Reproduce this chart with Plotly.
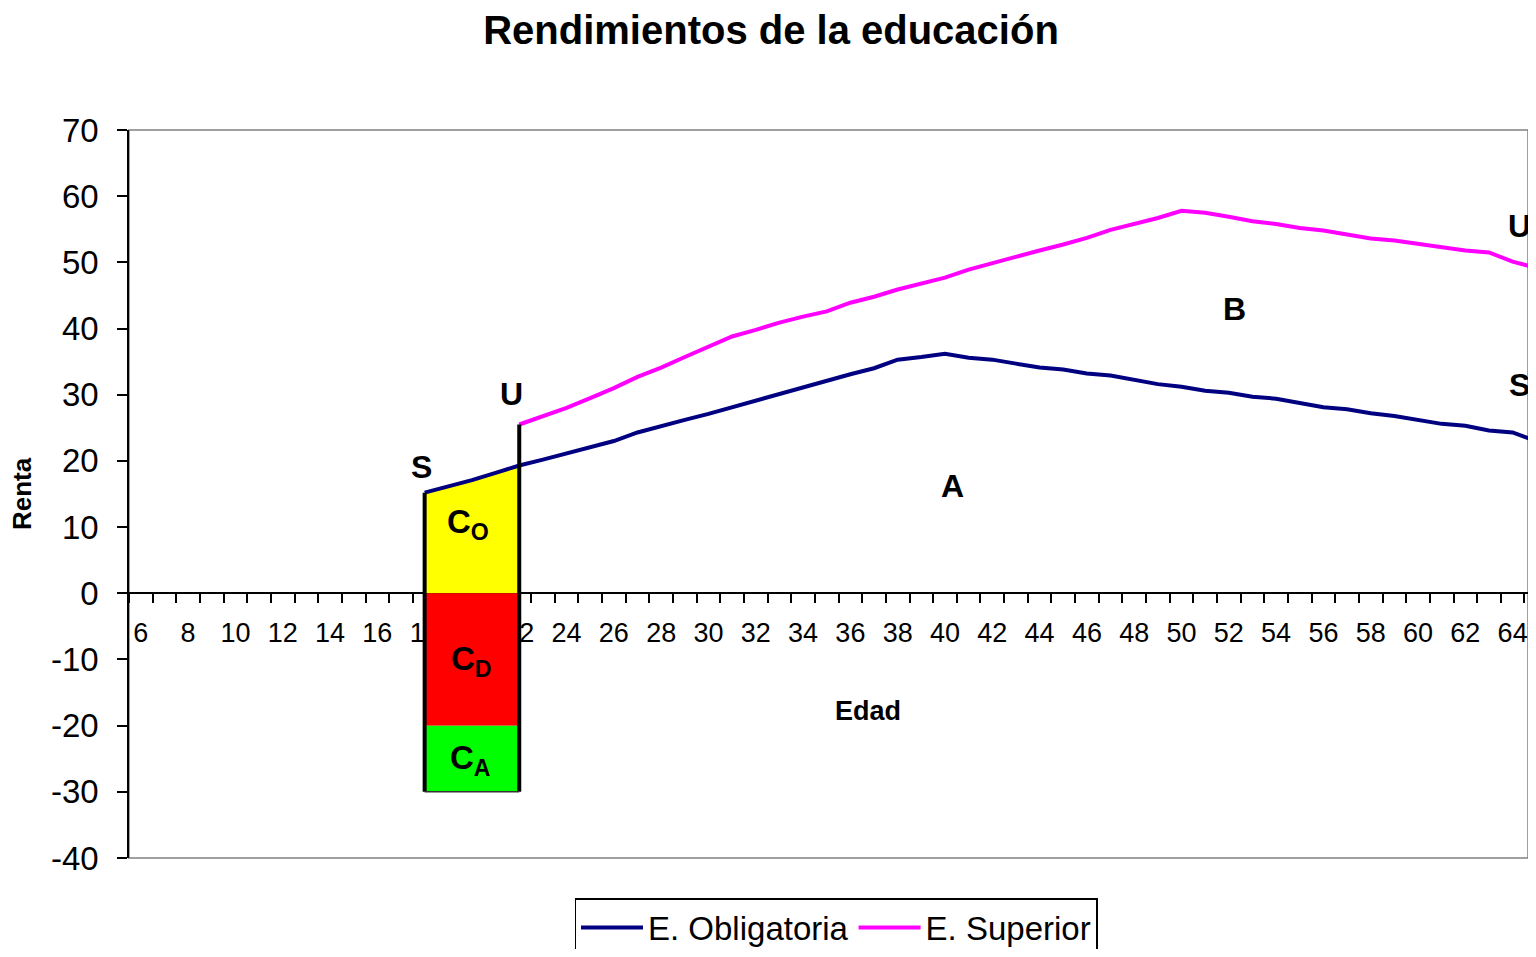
import plotly.graph_objects as go

# edad (años) y renta por nivel educativo
edad_obl = list(range(18, 66))
renta_obl = [15.2, 16.1, 17.1, 18.2, 19.3, 20.2, 21.1, 22.1, 23.0, 24.3,
             25.3, 26.2, 27.1, 28.1, 29.2, 30.2, 31.2, 32.2, 33.1, 34.0,
             35.3, 35.7, 36.2, 35.6, 35.3, 34.7, 34.1, 33.8, 33.2, 32.9,
             32.2, 31.6, 31.2, 30.6, 30.3, 29.7, 29.4, 28.8, 28.1, 27.8,
             27.2, 26.8, 26.2, 25.6, 25.3, 24.6, 24.3, 23.0]

edad_sup = list(range(22, 66))
renta_sup = [25.5, 26.8, 28.0, 29.5, 31.0, 32.7, 34.1, 35.7, 37.3, 38.8,
             39.8, 40.9, 41.8, 42.6, 43.9, 44.8, 45.9, 46.8, 47.7, 48.9,
             49.9, 50.8, 51.8, 52.7, 53.7, 54.9, 55.8, 56.7, 57.8, 57.5,
             56.9, 56.2, 55.8, 55.2, 54.8, 54.2, 53.6, 53.3, 52.8, 52.4,
             51.8, 51.5, 50.1, 49.2]

# periodo de estudios y costes
edad_ini = 18
edad_fin = 22
coste_directo = -20
coste_total = -30

x_ticks = list(range(6, 66, 2))
y_ticks = list(range(-40, 80, 10))
y_ticktext = [str(v) for v in y_ticks]

FONT = "Arial, Liberation Sans, sans-serif"

n_est = edad_fin - edad_ini + 1

fig = go.Figure()

# C_O: coste de oportunidad (renta no percibida)
fig.add_trace(go.Scatter(
    x=[edad_ini] + edad_obl[:n_est] + [edad_fin],
    y=[0] + renta_obl[:n_est] + [0],
    fill='toself', fillcolor='#FFFF00', mode='none',
    showlegend=False, hoverinfo='skip'))
# C_D: costes directos
fig.add_trace(go.Scatter(
    x=[edad_ini, edad_fin, edad_fin, edad_ini, edad_ini],
    y=[0, 0, coste_directo, coste_directo, 0],
    fill='toself', fillcolor='#FF0000', mode='none',
    showlegend=False, hoverinfo='skip'))
# C_A: otros costes
fig.add_trace(go.Scatter(
    x=[edad_ini, edad_fin, edad_fin, edad_ini, edad_ini],
    y=[coste_directo, coste_directo, coste_total, coste_total, coste_directo],
    fill='toself', fillcolor='#00FF00', mode='none',
    showlegend=False, hoverinfo='skip'))

fig.add_trace(go.Scatter(
    x=edad_obl, y=renta_obl, mode='lines', name='E. Obligatoria',
    line=dict(color='#000080', width=4)))
fig.add_trace(go.Scatter(
    x=edad_sup, y=renta_sup, mode='lines', name='E. Superior',
    line=dict(color='#FF00FF', width=4)))

# bordes negros de la zona de costes
fig.add_trace(go.Scatter(
    x=[edad_ini, edad_ini], y=[renta_obl[0], coste_total], mode='lines',
    line=dict(color='black', width=4), showlegend=False, hoverinfo='skip'))
fig.add_trace(go.Scatter(
    x=[edad_fin, edad_fin], y=[renta_sup[0], coste_total], mode='lines',
    line=dict(color='black', width=4), showlegend=False, hoverinfo='skip'))
fig.add_trace(go.Scatter(
    x=[edad_ini, edad_fin], y=[coste_total, coste_total], mode='lines',
    line=dict(color='#333333', width=1.5), showlegend=False, hoverinfo='skip'))

labels = [
    (17.85, 19.1, "S", 32),
    (21.66, 30.1, "U", 32),
    (19.85, 10.5, "C<sub>O</sub>", 33),
    (20.0, -10.3, "C<sub>D</sub>", 33),
    (19.93, -25.2, "C<sub>A</sub>", 33),
    (40.3, 16.2, "A", 32),
    (52.23, 43.0, "B", 32),
    (64.3, 55.5, "U", 32),
    (64.3, 31.5, "S", 32),
]
for lx, ly, txt, fs in labels:
    fig.add_annotation(x=lx, y=ly, text=f"<b>{txt}</b>", showarrow=False,
                       xanchor='center', yanchor='middle',
                       font=dict(size=fs, color='black', family=FONT))

fig.add_annotation(xref='paper', yref='paper', x=(868 - 129) / 1399,
                   y=(858 - 711) / 728, text="<b>Edad</b>", showarrow=False,
                   xanchor='center', yanchor='middle',
                   font=dict(size=27, color='black', family=FONT))
fig.add_annotation(xref='paper', yref='paper', x=(22 - 129) / 1399, y=0.5,
                   text="<b>Renta</b>", textangle=-90, showarrow=False,
                   xanchor='center', yanchor='middle',
                   font=dict(size=26, color='black', family=FONT))

# marco del área de trazado
fig.add_shape(type='rect', xref='paper', yref='paper', x0=0, x1=1, y0=0, y1=1,
              line=dict(color='#808080', width=1.5), layer='below')

fig.update_xaxes(
    range=[5.5, 64.65],
    anchor='free', position=40 / 110,
    tickmode='array', tickvals=x_ticks,
    ticks='', ticklabelstandoff=16,
    minor=dict(tick0=5.5, dtick=1, ticks='outside', ticklen=9,
               tickcolor='black', tickwidth=1.5),
    showline=True, linecolor='black', linewidth=1.5,
    showgrid=False, zeroline=False, automargin=False,
    tickfont=dict(size=27, color='black', family=FONT),
    layer='below traces')

fig.update_yaxes(
    range=[-40, 70], tickmode='array', tickvals=y_ticks, ticktext=y_ticktext,
    ticks='outside', ticklen=10, tickcolor='black', tickwidth=1.5,
    ticklabelstandoff=12,
    showline=True, linecolor='black', linewidth=1.5,
    showgrid=False, zeroline=False, automargin=False,
    tickfont=dict(size=33, color='black', family=FONT))

# la página añade 8 px de margen por cada lado: la figura cabe sin desbordar
fig.update_layout(
    width=1520, height=941,
    margin=dict(l=121, r=0, t=122, b=91, autoexpand=False),
    paper_bgcolor='white', plot_bgcolor='white',
    title=dict(text="<b>Rendimientos de la educación</b>", x=763 / 1520,
               xanchor='center', y=1 - 22 / 941, yanchor='middle',
               font=dict(size=40, color='black', family=FONT)),
    legend=dict(orientation='h', x=(836 - 129) / 1399, xanchor='center',
                y=-40 / 728, yanchor='top',
                bgcolor='white', bordercolor='black', borderwidth=1.5,
                itemwidth=62,
                font=dict(size=33, color='black', family=FONT)),
    showlegend=True,
)

fig.write_html("out.html")
